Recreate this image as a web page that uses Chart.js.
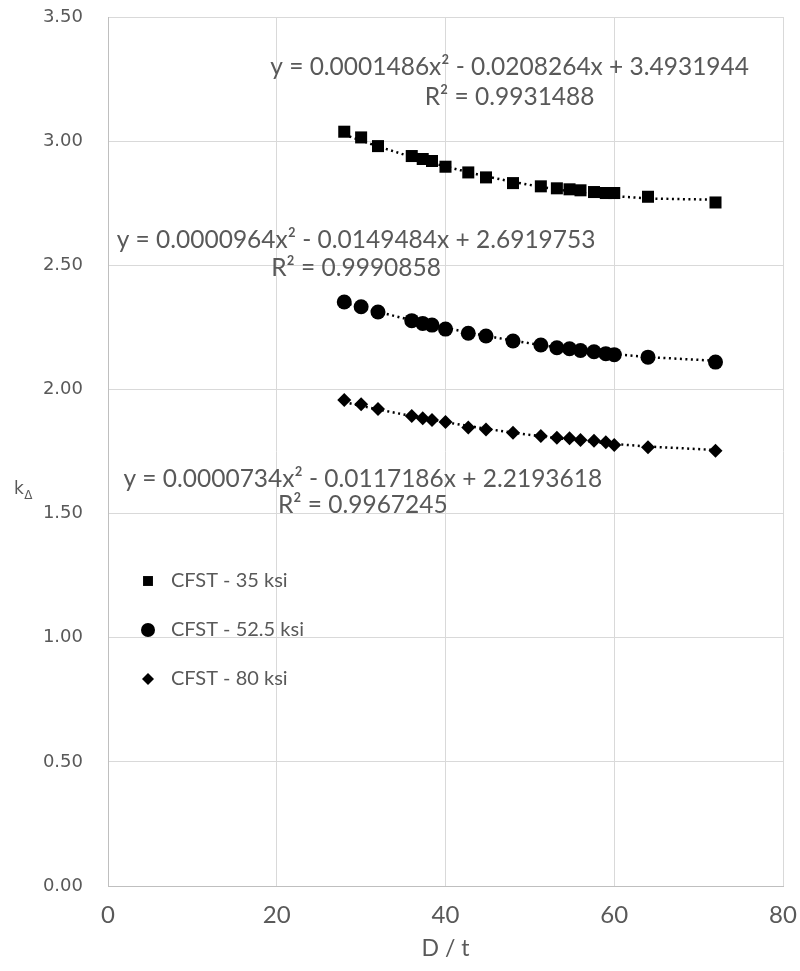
<!DOCTYPE html>
<html>
<head>
<meta charset="utf-8">
<script src="https://cdn.jsdelivr.net/npm/chart.js@4.4.0/dist/chart.umd.min.js"></script>
<style>
  html, body { margin: 0; padding: 0; background: #ffffff; }
  #wrap { width: 800px; height: 971px; position: relative; }
</style>
</head>
<body>
<div id="wrap"><canvas id="chart" width="800" height="971"></canvas></div>
<script>
// Diameter-to-thickness ratios tested
const dtRatios = [28, 30, 32, 36, 37.3, 38.4, 40, 42.7, 44.8, 48, 51.3, 53.2, 54.7, 56, 57.6, 59, 60, 64, 72];

// k-delta factor per steel grade
const k35ksi  = [3.038, 3.015, 2.980, 2.940, 2.928, 2.920, 2.897, 2.874, 2.854, 2.831, 2.818, 2.810, 2.806, 2.802, 2.795, 2.791, 2.791, 2.776, 2.753];
const k525ksi = [2.352, 2.333, 2.312, 2.277, 2.266, 2.259, 2.243, 2.226, 2.215, 2.195, 2.179, 2.168, 2.164, 2.157, 2.152, 2.144, 2.140, 2.130, 2.110];
const k80ksi  = [1.957, 1.940, 1.921, 1.893, 1.884, 1.877, 1.869, 1.847, 1.839, 1.826, 1.812, 1.805, 1.803, 1.796, 1.793, 1.787, 1.776, 1.767, 1.753];

const seriesNames = ['CFST - 35 ksi', 'CFST - 52.5 ksi', 'CFST - 80 ksi'];
const pointStyles = ['rect', 'circle', 'rectRot'];
const pointSizes  = [8.5, 7.5, 7];

// Quadratic trendline coefficients [a, b, c] for y = a x^2 + b x + c, and their R^2
const fit35  = [0.0001486, -0.0208264, 3.4931944];
const fit525 = [0.0000964, -0.0149484, 2.6919753];
const fit80  = [0.0000734, -0.0117186, 2.2193618];
const rSquared = [0.9931488, 0.9990858, 0.9967245];

// Where each equation label sits, in data units [x, y of equation line, y of R^2 line]
const labelAnchors = [[47.6, 3.298, 3.178], [29.4, 2.602, 2.489], [30.2, 1.639, 1.534]];

const yTickValues = [0, 0.5, 1, 1.5, 2, 2.5, 3, 3.5];
const xTickValues = [0, 20, 40, 60, 80];

const seriesValues = [k35ksi, k525ksi, k80ksi];
const fits = [fit35, fit525, fit80];

const TEXT = '#595959';
const GRID = '#d9d9d9';
const LABEL_FONT = 'Lato, "Open Sans", sans-serif';

function trendPoints(coef) {
  return dtRatios.map(x => ({ x: x, y: coef[0] * x * x + coef[1] * x + coef[2] }));
}

function equationText(coef) {
  const part = (v) => Math.abs(v).toFixed(7);
  const s1 = coef[1] < 0 ? ' - ' : ' + ';
  const s2 = coef[2] < 0 ? ' - ' : ' + ';
  return 'y = ' + part(coef[0]) + 'x\u00B2' + s1 + part(coef[1]) + 'x' + s2 + part(coef[2]);
}

const datasets = [];
// dotted trendlines first, underneath the markers
fits.forEach((coef, i) => {
  datasets.push({
    label: 'trend ' + seriesNames[i],
    data: trendPoints(coef),
    showLine: true,
    borderColor: '#000000',
    borderWidth: 2.5,
    borderDash: [2, 3.5],
    pointRadius: 0,
    fill: false,
    order: 2
  });
});
seriesValues.forEach((vals, i) => {
  datasets.push({
    label: seriesNames[i],
    data: dtRatios.map((x, j) => ({ x: x, y: vals[j] })),
    showLine: false,
    pointStyle: pointStyles[i],
    pointRadius: pointSizes[i],
    backgroundColor: '#000000',
    borderColor: '#000000',
    borderWidth: 0,
    order: 1
  });
});

// Equation / R^2 labels beside each trendline
const fitLabels = {
  id: 'fitLabels',
  afterDatasetsDraw(chart) {
    const { ctx, scales } = chart;
    ctx.save();
    ctx.fillStyle = TEXT;
    ctx.font = '24.5px ' + LABEL_FONT;
    ctx.textAlign = 'center';
    ctx.textBaseline = 'middle';
    fits.forEach((coef, i) => {
      const a = labelAnchors[i];
      const px = scales.x.getPixelForValue(a[0]);
      ctx.fillText(equationText(coef), px, scales.y.getPixelForValue(a[1]));
      ctx.fillText('R\u00B2 = ' + rSquared[i].toFixed(7), px, scales.y.getPixelForValue(a[2]));
    });
    ctx.restore();
  }
};

// Legend drawn inside the plot area
const innerLegend = {
  id: 'innerLegend',
  afterDatasetsDraw(chart) {
    const { ctx, chartArea } = chart;
    ctx.save();
    const x0 = chartArea.left + 40;
    const y0 = chartArea.top + 564;
    const gap = 49;
    seriesNames.forEach((name, i) => {
      const y = y0 + i * gap;
      ctx.fillStyle = '#000000';
      ctx.strokeStyle = '#000000';
      Chart.helpers.drawPoint(ctx, {
        pointStyle: pointStyles[i],
        radius: [7, 7, 6][i],
        rotation: 0,
        borderWidth: 0
      }, x0, y);
      ctx.fillStyle = TEXT;
      ctx.font = '20px ' + LABEL_FONT;
      ctx.textAlign = 'left';
      ctx.textBaseline = 'middle';
      ctx.fillText(name, x0 + 23, y);
    });
    ctx.restore();
  }
};

// Y-axis title with subscript delta
const yTitle = {
  id: 'yTitle',
  afterDraw(chart) {
    const { ctx } = chart;
    ctx.save();
    ctx.fillStyle = TEXT;
    ctx.textAlign = 'left';
    ctx.textBaseline = 'alphabetic';
    ctx.font = '17px "DejaVu Sans", sans-serif';
    ctx.fillText('k', 14, 494);
    const kw = ctx.measureText('k').width;
    ctx.font = '12px "DejaVu Sans", sans-serif';
    ctx.fillText('\u0394', 14 + kw + 0.5, 499);
    ctx.restore();
  }
};

new Chart(document.getElementById('chart'), {
  type: 'scatter',
  data: { datasets: datasets },
  options: {
    responsive: false,
    animation: false,
    devicePixelRatio: 1,
    layout: { padding: { left: 0, right: 17, top: 17, bottom: 0 } },
    plugins: {
      legend: { display: false },
      tooltip: { enabled: false }
    },
    scales: {
      x: {
        type: 'linear',
        min: 0,
        max: 80,
        afterBuildTicks(scale) { scale.ticks = xTickValues.map(v => ({ value: v })); },
        afterFit(scale) { scale.height = 85; scale.paddingRight = 0; scale.paddingLeft = 0; },
        ticks: {
          color: TEXT,
          font: { family: LABEL_FONT, size: 24 },
          padding: 15,
          maxRotation: 0
        },
        grid: { color: GRID, lineWidth: 1, drawTicks: false },
        border: { color: '#bfbfbf', width: 1 },
        title: {
          display: true,
          text: 'D / t',
          color: TEXT,
          font: { family: LABEL_FONT, size: 23 },
          padding: { top: 0, bottom: 9 }
        }
      },
      y: {
        type: 'linear',
        min: 0,
        max: 3.5,
        afterBuildTicks(scale) { scale.ticks = yTickValues.map(v => ({ value: v })); },
        afterFit(scale) { scale.width = 108; scale.paddingTop = 0; scale.paddingBottom = 0; },
        ticks: {
          color: TEXT,
          font: { family: '"DejaVu Sans", sans-serif', size: 18 },
          padding: 25,
          callback: (v) => Number(v).toFixed(2)
        },
        grid: { color: GRID, lineWidth: 1, drawTicks: false },
        border: { color: '#bfbfbf', width: 1 }
      }
    }
  },
  plugins: [fitLabels, innerLegend, yTitle]
});
</script>
</body>
</html>
